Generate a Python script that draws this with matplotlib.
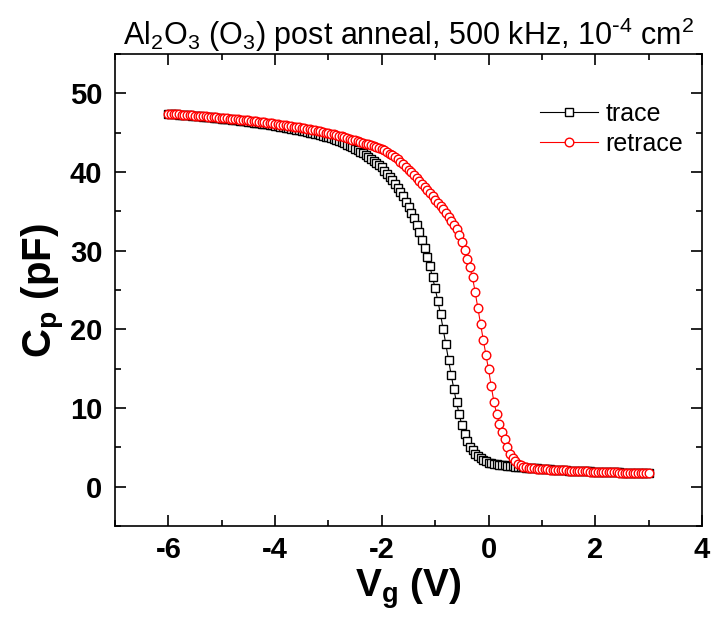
import numpy as np
import matplotlib
matplotlib.use("Agg")
import matplotlib.pyplot as plt
from matplotlib.ticker import MultipleLocator

plt.rcParams['font.family'] = ['Liberation Sans', 'DejaVu Sans']
plt.rcParams['mathtext.default'] = 'regular'
plt.rcParams['axes.unicode_minus'] = False

# Gate-voltage sweep (V): -6 V to 3 V in 0.05 V steps
V_START, V_STOP, N_POINTS = -6.0, 3.0, 181
vg = np.linspace(V_START, V_STOP, N_POINTS)

# Trace (pF)
trace = [
    47.40, 47.38, 47.35, 47.33, 47.30, 47.27, 47.25, 47.22, 47.19, 47.16,
    47.13, 47.10, 47.07, 47.04, 47.00, 46.97, 46.94, 46.90, 46.87, 46.83,
    46.80, 46.76, 46.72, 46.68, 46.64, 46.60, 46.56, 46.52, 46.47, 46.43,
    46.38, 46.34, 46.29, 46.24, 46.19, 46.14, 46.09, 46.04, 45.98, 45.93,
    45.87,
    45.81, 45.75, 45.69, 45.63, 45.57, 45.50, 45.44, 45.37, 45.30, 45.23,
    45.16, 45.08, 45.01, 44.93, 44.85, 44.77, 44.68, 44.60, 44.51, 44.42,
    44.30, 44.18, 44.05, 43.92, 43.78, 43.63, 43.48, 43.32, 43.15, 42.97,
    42.78, 42.58, 42.37, 42.15, 41.92, 41.68, 41.43, 41.17, 40.89, 40.60,
    40.15, 39.80, 39.40, 39.00, 38.50, 38.00, 37.45, 36.90, 36.25, 35.60,
    34.85, 34.10, 33.25, 32.40, 31.40, 30.40, 29.20, 28.00, 26.60, 25.20,
    23.60, 21.90, 20.00, 18.10, 16.10, 14.20, 12.40, 10.70, 9.20, 7.80,
    6.70, 5.80, 5.10, 4.60, 4.20, 3.85, 3.60, 3.40, 3.20, 3.05,
    2.98, 2.92, 2.86, 2.80, 2.76, 2.71, 2.67, 2.63, 2.59, 2.55,
    2.52, 2.49, 2.46, 2.43, 2.40, 2.37, 2.34, 2.31, 2.28, 2.25,
    2.23, 2.21, 2.19, 2.17, 2.15, 2.13, 2.11, 2.09, 2.07, 2.05,
    2.04, 2.02, 2.01, 1.99, 1.98, 1.96, 1.95, 1.93, 1.92, 1.90,
    1.89, 1.88, 1.87, 1.86, 1.85, 1.84, 1.83, 1.82, 1.81, 1.80,
    1.79, 1.78, 1.77, 1.76, 1.75, 1.74, 1.73, 1.72, 1.71, 1.70,
]

# Retrace (pF)
retrace = [
    47.40, 47.38, 47.36, 47.34, 47.32, 47.29, 47.27, 47.25, 47.22, 47.20,
    47.17, 47.15, 47.12, 47.10, 47.07, 47.04, 47.01, 46.98, 46.95, 46.92,
    46.89, 46.86, 46.83, 46.80, 46.76, 46.73, 46.70, 46.66, 46.63, 46.59,
    46.55, 46.51, 46.47, 46.43, 46.39, 46.35, 46.31, 46.26, 46.22, 46.17,
    46.13,
    46.08, 46.03, 45.98, 45.93, 45.88, 45.83, 45.77, 45.72, 45.66, 45.60,
    45.54, 45.48, 45.42, 45.36, 45.29, 45.22, 45.15, 45.08, 45.01, 44.94,
    44.86, 44.78, 44.70, 44.61, 44.52, 44.43, 44.33, 44.23, 44.13, 44.02,
    43.92, 43.82, 43.72, 43.62, 43.52, 43.42, 43.31, 43.20, 43.08, 42.96,
    42.80, 42.60, 42.35, 42.10, 41.85, 41.60, 41.30, 41.00, 40.65, 40.30,
    39.95, 39.60, 39.20, 38.80, 38.45, 38.10, 37.70, 37.30, 36.90, 36.50,
    36.10, 35.70, 35.25, 34.80, 34.30, 33.80, 33.30, 32.70, 31.95, 31.10,
    30.10, 29.00, 27.90, 26.60, 24.70, 22.70, 20.70, 18.70, 16.80, 14.90,
    12.80, 10.80, 9.30, 8.00, 7.00, 6.00, 5.10, 4.20, 3.65, 3.20,
    2.90, 2.70, 2.55, 2.45, 2.40, 2.35, 2.32, 2.30, 2.27, 2.25,
    2.22, 2.20, 2.18, 2.16, 2.14, 2.12, 2.10, 2.08, 2.06, 2.04,
    2.02, 2.01, 1.99, 1.98, 1.96, 1.95, 1.93, 1.92, 1.90, 1.89,
    1.88, 1.87, 1.86, 1.85, 1.84, 1.83, 1.82, 1.81, 1.80, 1.79,
    1.78, 1.77, 1.76, 1.75, 1.74, 1.73, 1.72, 1.71, 1.70, 1.69,
]

series_labels = ["trace", "retrace"]
title_text = r"Al$_2$O$_3$ (O$_3$) post anneal, 500 kHz, 10$^{\text{-}4}$ cm$^2$"
xlabel_text = r"V$_g$ (V)"
ylabel_text = r"C$_p$ (pF)"
x_ticks = [-6, -4, -2, 0, 2, 4]
y_ticks = [0, 10, 20, 30, 40, 50]

fig = plt.figure(figsize=(7.12, 6.32), dpi=100)
ax = fig.add_axes([115 / 712, 1 - 526 / 632, 587 / 712, 472 / 632])

ax.plot(vg, trace, color="black", lw=0.8, marker="s", ms=5.4, mfc="white",
        mec="black", mew=1.0, label=series_labels[0])
ax.plot(vg, retrace, color="red", lw=0.8, marker="o", ms=6.2, mfc="white",
        mec="red", mew=1.0, label=series_labels[1])

ax.set_xlim(-7, 4)
ax.set_ylim(-5, 55)
ax.set_xticks(x_ticks)
ax.set_yticks(y_ticks)
ax.xaxis.set_minor_locator(MultipleLocator(1))
ax.yaxis.set_minor_locator(MultipleLocator(5))
ax.tick_params(which="both", direction="in", top=True, right=True, width=1.2)
ax.tick_params(which="major", length=8, labelsize=21)
ax.tick_params(axis="x", which="major", pad=7)
ax.tick_params(axis="y", which="major", pad=9)
ax.tick_params(which="minor", length=4.5)
for lab in ax.get_xticklabels() + ax.get_yticklabels():
    lab.set_fontweight("bold")
for sp in ax.spines.values():
    sp.set_linewidth(1.2)

ax.set_xlabel(xlabel_text, fontsize=28, fontweight="bold", labelpad=2)
ax.set_ylabel(ylabel_text, fontsize=29, fontweight="bold", labelpad=2)
ax.set_title(title_text, fontsize=22, pad=5)

leg = ax.legend(loc="upper right", bbox_to_anchor=(0.985, 0.92), frameon=False,
                fontsize=18, handlelength=2.3, handletextpad=0.3,
                labelspacing=0.25, borderaxespad=0.0)

fig.savefig("out.png", dpi=100)
